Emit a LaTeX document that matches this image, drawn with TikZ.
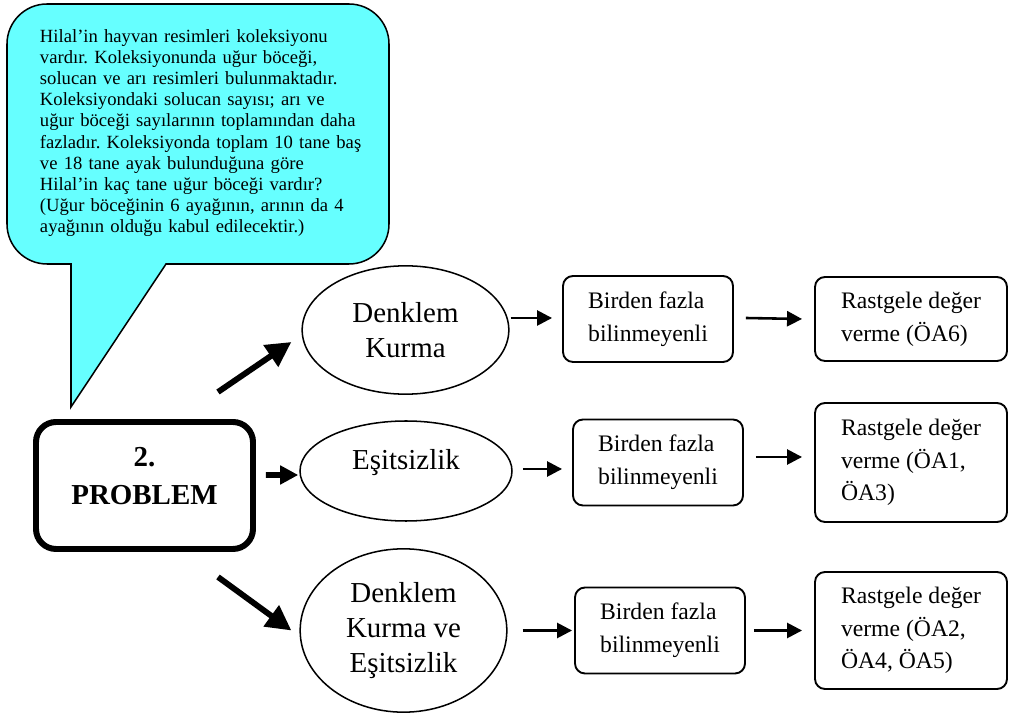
\documentclass[tikz,border=0pt]{standalone}
\usepackage{fontspec}
\setmainfont{Liberation Serif}
\usetikzlibrary{shapes.geometric, arrows.meta}
\frenchspacing
\definecolor{balonMavisi}{RGB}{102,255,255}
\tikzstyle{balon} = [draw=black, fill=balonMavisi, line width=1.3pt]
\tikzstyle{soruMetni} = [text width=9.9cm, align=left, inner sep=0, font=\fontsize{15.9}{18.1}\selectfont]
\tikzstyle{problemKutusu} = [rectangle, rounded corners=.6cm, minimum width=6.51cm, minimum height=3.81cm, align=center, draw=black, line width=5.1pt, text depth=16.2pt, font=\bfseries\fontsize{24.7}{32.4}\selectfont]
\tikzstyle{yontemElips} = [ellipse, draw=black, line width=1.3pt, inner sep=0, align=center, font=\fontsize{24.7}{29.9}\selectfont]
\tikzstyle{ikinciKutu} = [rectangle, rounded corners=.3cm, minimum width=5.1cm, minimum height=2.58cm, align=left, draw=black, line width=1.6pt, font=\fontsize{20.2}{27.9}\selectfont]
\tikzstyle{sonucKutusu} = [rectangle, rounded corners=.3cm, minimum width=5.76cm, align=left, draw=black, line width=1.6pt, font=\fontsize{20.2}{27.9}\selectfont]
\tikzstyle{ok} = [line width=2.2pt, ->, >={Triangle[length=.45cm, width=.45cm]}]
\tikzstyle{kalinOk} = [line width=5pt, ->, >={Triangle[length=.75cm, width=.75cm]}]
\tikzstyle{kalinOkKisa} = [line width=5pt, ->, >={Triangle[length=.54cm, width=.54cm]}]

\begin{document}
\begin{tikzpicture}[node distance=2cm]

	\useasboundingbox (-4.335,-6.885) rectangle (25.935,14.565);

	% Konusma balonu
	\draw [balon] (-2.205,6.645) [rounded corners=1.2cm] -- (-4.125,6.645) -- (-4.125,14.445) -- (7.335,14.445) -- (7.335,6.645) [sharp corners] -- (0.645,6.645) -- (-2.205,2.355) -- cycle;

	% Nodlar
	\node (problem) [problemKutusu] {2.\\PROBLEM};
	\node (soru) [soruMetni, above of=problem, xshift=1.815cm, yshift=8.575cm] {Hilal’in hayvan resimleri koleksiyonu\\vardır. Koleksiyonunda uğur böceği,\\solucan ve arı resimleri bulunmaktadır.\\Koleksiyondaki solucan sayısı; arı ve\\uğur böceği sayılarının toplamından daha\\fazladır. Koleksiyonda toplam 10 tane baş\\ve 18 tane ayak bulunduğuna göre\\Hilal’in kaç tane uğur böceği vardır?\\(Uğur böceğinin 6 ayağının, arının da 4\\ayağının olduğu kabul edilecektir.)};

	\node (denklem) [yontemElips, right of=problem, xshift=5.83cm, yshift=4.665cm, minimum width=6.2cm, minimum height=3.85cm] {Denklem\\Kurma};
	\node (esitsizlik) [yontemElips, right of=problem, xshift=5.845cm, yshift=.435cm, minimum width=6.36cm, minimum height=3cm, text depth=19.4pt] {Eşitsizlik};
	\node (ikisi) [yontemElips, right of=problem, xshift=5.77cm, yshift=-4.35cm, minimum width=6.2cm, minimum height=4.9cm] {Denklem\\Kurma ve\\Eşitsizlik};

	\node (birden1) [ikinciKutu, right of=denklem, xshift=5.275cm, yshift=.33cm] {Birden fazla\\bilinmeyenli};
	\node (birden2) [ikinciKutu, right of=esitsizlik, xshift=5.56cm, yshift=.255cm] {Birden fazla\\bilinmeyenli};
	\node (birden3) [ikinciKutu, right of=ikisi, xshift=5.695cm] {Birden fazla\\bilinmeyenli};

	\node (sonuc1) [sonucKutusu, right of=birden1, xshift=5.89cm, minimum height=2.52cm] {Rastgele değer\\verme (ÖA6)};
	\node (sonuc2) [sonucKutusu, right of=birden2, xshift=5.59cm, minimum height=3.57cm] {Rastgele değer\\verme (ÖA1,\\ÖA3)};
	\node (sonuc3) [sonucKutusu, right of=birden3, xshift=5.53cm, minimum height=3.51cm] {Rastgele değer\\verme (ÖA2,\\ÖA4, ÖA5)};

	% Oklar
	\draw [kalinOk] ([xshift=-1.14cm, yshift=.81cm]problem.north east) -- ([xshift=-.3cm, yshift=-.36cm]denklem.west);
	\draw [kalinOkKisa] ([xshift=.3cm, yshift=.315cm]problem.east) -- ([xshift=-.03cm, yshift=-.12cm]esitsizlik.west);
	\draw [kalinOk] ([xshift=-1.14cm, yshift=-.75cm]problem.south east) -- ([xshift=-.24cm]ikisi.west);

	\draw [ok] ([xshift=.03cm, yshift=.36cm]denklem.east) -- ([xshift=-.3cm, yshift=.03cm]birden1.west);
	\draw [ok] ([xshift=.36cm, yshift=.03cm]birden1.east) -- ([xshift=-.36cm]sonuc1.west);

	\draw [ok] ([xshift=.3cm, yshift=.06cm]esitsizlik.east) -- ([xshift=-.3cm, yshift=-.195cm]birden2.west);
	\draw [ok] ([xshift=.36cm, yshift=.165cm]birden2.east) -- ([xshift=-.36cm, yshift=.165cm]sonuc2.west);

	\draw [ok] ([xshift=.45cm]ikisi.east) -- ([xshift=-.06cm]birden3.west);
	\draw [ok] ([xshift=.24cm]birden3.east) -- ([xshift=-.36cm]sonuc3.west);

\end{tikzpicture}
\end{document}
